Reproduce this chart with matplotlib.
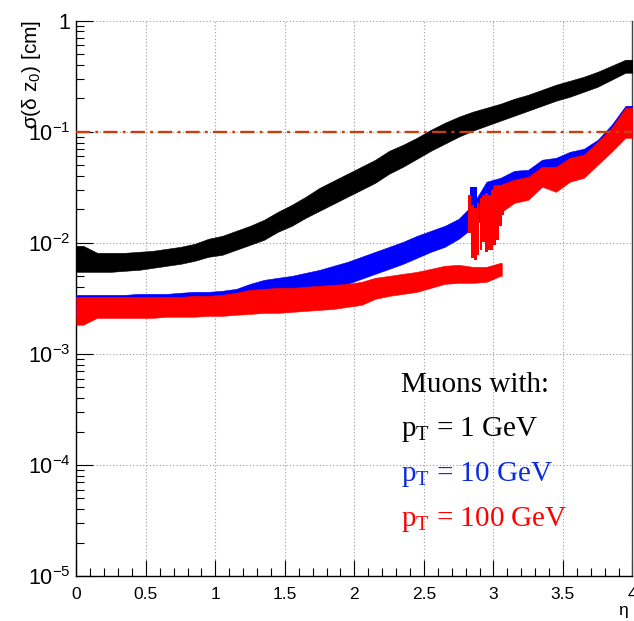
import numpy as np
import matplotlib
matplotlib.use("Agg")
import matplotlib.pyplot as plt
from matplotlib.ticker import FixedLocator, FixedFormatter, MultipleLocator, LogLocator, NullFormatter

plt.rcParams['font.family'] = ['Liberation Sans', 'DejaVu Sans']
plt.rcParams['mathtext.fontset'] = 'custom'
plt.rcParams['mathtext.rm'] = 'Liberation Serif'
plt.rcParams['mathtext.it'] = 'Liberation Serif:italic'
plt.rcParams['mathtext.bf'] = 'Liberation Serif:bold'

# ---------------- data ----------------
eta_centers = np.round(np.arange(0.05, 4.0, 0.1), 2)   # 40 bins of width 0.1

# pT = 1 GeV (black)
pt1_low = [0.00548, 0.00548, 0.00548, 0.00560, 0.00571, 0.00595, 0.00621, 0.00647, 0.00688, 0.00748,
           0.00780, 0.00865, 0.00959, 0.01064, 0.01257, 0.01423, 0.0168, 0.01943, 0.02246, 0.0260,
           0.0300, 0.0347, 0.0419, 0.0484, 0.0571, 0.0674, 0.0780, 0.0902, 0.1021, 0.1133,
           0.1257, 0.1394, 0.1546, 0.1715, 0.1903, 0.2067, 0.2293, 0.2544, 0.2942, 0.3401]
pt1_high = [0.00940, 0.00813, 0.00813, 0.00813, 0.00830, 0.00847, 0.00883, 0.00920, 0.00979, 0.01087,
            0.01156, 0.01283, 0.01423, 0.01612, 0.01903, 0.0220, 0.0260, 0.0313, 0.0362, 0.04185,
            0.0484, 0.0560, 0.0674, 0.0764, 0.0883, 0.1042, 0.1205, 0.1365, 0.1515, 0.1646,
            0.1788, 0.1983, 0.2155, 0.2390, 0.2652, 0.2881, 0.3131, 0.3473, 0.3933, 0.4454]

# pT = 10 GeV (blue)
pt10_low = [0.00220, 0.00220, 0.00220, 0.00220, 0.00225, 0.00225, 0.00225, 0.00229, 0.00234, 0.00234,
            0.00239, 0.00249, 0.00271, 0.00294, 0.00307, 0.00320, 0.00340, 0.00362, 0.00393, 0.00427,
            0.00474, 0.00526, 0.00583, 0.00647, 0.00733, 0.00830, 0.00920, 0.01087, 0.01365, 0.01788,
            0.0254, 0.0282, 0.0288, 0.0355, 0.0370, 0.0419, 0.0445, 0.0537, 0.0718, 0.0980]
pt10_high = [0.00340, 0.00340, 0.00340, 0.00340, 0.00347, 0.00347, 0.00347, 0.00355, 0.00362, 0.00362,
             0.00370, 0.00385, 0.00427, 0.00464, 0.00484, 0.00504, 0.00537, 0.00571, 0.00621, 0.00674,
             0.00748, 0.00830, 0.00920, 0.01021, 0.01156, 0.01283, 0.01423, 0.01646, 0.0220, 0.0355,
             0.0385, 0.0445, 0.0455, 0.0560, 0.0583, 0.0660, 0.0703, 0.0847, 0.1156, 0.1715]
# pT = 10 GeV single wide bin in the transition region
pt10_spike_eta = [2.855]
pt10_spike_low = [0.01788]
pt10_spike_high = [0.0320]

# pT = 100 GeV (red), central branch (bins centred 0.05 .. 3.05, ends at 3.06)
pt100_low = [0.00183, 0.00211, 0.00211, 0.00211, 0.00211, 0.00211, 0.00216, 0.00216, 0.00216, 0.00220,
             0.00220, 0.00225, 0.00229, 0.00234, 0.00234, 0.00239, 0.00244, 0.00249, 0.00254, 0.00265,
             0.00276, 0.00313, 0.00333, 0.00347, 0.00362, 0.00393, 0.00427, 0.00436, 0.00436, 0.00445,
             0.00504]
pt100_high = [0.00326, 0.00326, 0.00326, 0.00326, 0.00326, 0.00326, 0.00326, 0.00326, 0.00333, 0.00333,
              0.00340, 0.00355, 0.00377, 0.00385, 0.00393, 0.00393, 0.00402, 0.00410, 0.00419, 0.00427,
              0.00445, 0.00484, 0.00504, 0.00526, 0.00548, 0.00583, 0.00621, 0.00634, 0.00608, 0.00608,
              0.00660]
# pT = 100 GeV (red), forward branch (bins centred 3.05 .. 3.95)
pt100_fwd_low = [0.01864, 0.0229, 0.0244, 0.0320, 0.0288, 0.0355, 0.0385, 0.0504, 0.0660, 0.0883]
pt100_fwd_high = [0.0333, 0.0370, 0.0393, 0.0484, 0.0484, 0.0583, 0.0621, 0.0813, 0.1087, 0.1646]
# pT = 100 GeV (red), transition region fluctuations
trans_eta = [2.83, 2.85, 2.87, 2.89, 2.91, 2.93, 2.95, 2.97, 2.99, 3.01, 3.03, 3.05, 3.07]
trans_high = [0.0271, 0.0220, 0.0207, 0.0229, 0.0254, 0.0271, 0.0282, 0.0271, 0.0300, 0.0313, 0.0300, 0.0271, 0.0244]
trans_low = [0.01231, 0.00733, 0.00703, 0.00780, 0.00865, 0.01021, 0.00830, 0.00865, 0.00865, 0.00959, 0.01064, 0.01423, 0.01788]

threshold = 0.1

x_ticks = [0, 0.5, 1, 1.5, 2, 2.5, 3, 3.5, 4]
x_tick_labels = ['0', '0.5', '1', '1.5', '2', '2.5', '3', '3.5', '4']
y_ticks = [1e-5, 1e-4, 1e-3, 1e-2, 1e-1, 1]
y_tick_labels = [r'$\mathdefault{10^{-5}}$', r'$\mathdefault{10^{-4}}$', r'$\mathdefault{10^{-3}}$',
                 r'$\mathdefault{10^{-2}}$', r'$\mathdefault{10^{-1}}$', '1']

legend_title = 'Muons with:'
legend_labels = [r'p$_\mathrm{T}$ = 1 GeV', r'p$_\mathrm{T}$ = 10 GeV', r'p$_\mathrm{T}$ = 100 GeV']
legend_colors = ['#000000', '#0a2be0', '#ff0000']

# ---------------- plot ----------------
fig = plt.figure(figsize=(6.34, 6.21), dpi=100)
ax = fig.add_axes([0.1203, 0.07246, 0.8773, 0.8942])
ax.set_yscale('log')


def band(centers, lo, hi, x0, x1, color, z):
    c = list(np.asarray(centers, float))
    x = np.array([x0] + c + [x1])
    lo = np.array([lo[0]] + list(lo) + [lo[-1]], float)
    hi = np.array([hi[0]] + list(hi) + [hi[-1]], float)
    ax.fill_between(x, lo, hi, color=color, lw=0.4, edgecolor=color, zorder=z)


band(eta_centers, pt1_low, pt1_high, 0.0, 4.0, '#000000', 3)
band(eta_centers, pt10_low, pt10_high, 0.0, 4.0, '#0000ff', 3.1)
sl = np.asarray(pt10_spike_low)
sh = np.asarray(pt10_spike_high)
ax.bar(pt10_spike_eta, sh - sl, bottom=sl, width=0.05, color='#0000ff', lw=0, zorder=3.15)
band(eta_centers[:len(pt100_low)], pt100_low, pt100_high, 0.0, 3.06, '#ff0000', 3.2)
band(eta_centers[30:], pt100_fwd_low, pt100_fwd_high, 3.0, 4.0, '#ff0000', 3.2)
tl = np.asarray(trans_low)
th = np.asarray(trans_high)
ax.bar(trans_eta, th - tl, bottom=tl, width=0.019, color='#ff0000', lw=0, zorder=3.3)

ax.axhline(threshold, color='#c8400e', lw=1.7, ls=(0, (6, 2.2, 1.2, 2.2)), zorder=6)

ax.set_xlim(0, 4)
ax.set_ylim(1e-5, 1)
ax.xaxis.set_major_locator(FixedLocator(x_ticks))
ax.xaxis.set_major_formatter(FixedFormatter(x_tick_labels))
ax.xaxis.set_minor_locator(MultipleLocator(0.1))
ax.yaxis.set_major_locator(FixedLocator(y_ticks))
ax.yaxis.set_major_formatter(FixedFormatter(y_tick_labels))
ax.yaxis.set_minor_locator(LogLocator(base=10, subs=np.arange(2, 10), numticks=20))
ax.yaxis.set_minor_formatter(NullFormatter())

ax.tick_params(which='both', direction='in', top=False, right=False, color='black')
ax.tick_params(axis='x', which='major', length=11.5, width=0.8, pad=8, labelsize=12.5)
ax.tick_params(axis='x', which='minor', length=6, width=0.8)
ax.tick_params(axis='y', which='major', length=12, width=0.8, pad=4, labelsize=15.5)
ax.tick_params(axis='y', which='minor', length=6, width=0.8)

ax.grid(True, which='major', ls=(0, (1, 2)), color='#9a9a9a', lw=0.8)
ax.set_axisbelow(True)

ax.spines['top'].set_visible(False)
ax.spines['right'].set_color('#444444')
ax.spines['right'].set_linewidth(1.0)
ax.spines['left'].set_linewidth(1.0)
ax.spines['bottom'].set_linewidth(1.0)

fig.text(0.05, 0.968, r'σ(δ $\mathdefault{z_0}$) [cm]', rotation=90, ha='center', va='top', fontsize=15)
fig.text(623 / 634, 1 - 611 / 621, 'η', ha='center', va='center', fontsize=12.5)

fig.text(0.6325, 1 - 392 / 621, legend_title, fontsize=21, family='Liberation Serif', va='baseline', color='#000000')
for i, (lab, col) in enumerate(zip(legend_labels, legend_colors)):
    yb = [436, 481, 526][i]
    fig.text(0.6325, 1 - yb / 621, lab, fontsize=21, family='Liberation Serif', va='baseline', color=col)

fig.savefig('out.png', dpi=100)
